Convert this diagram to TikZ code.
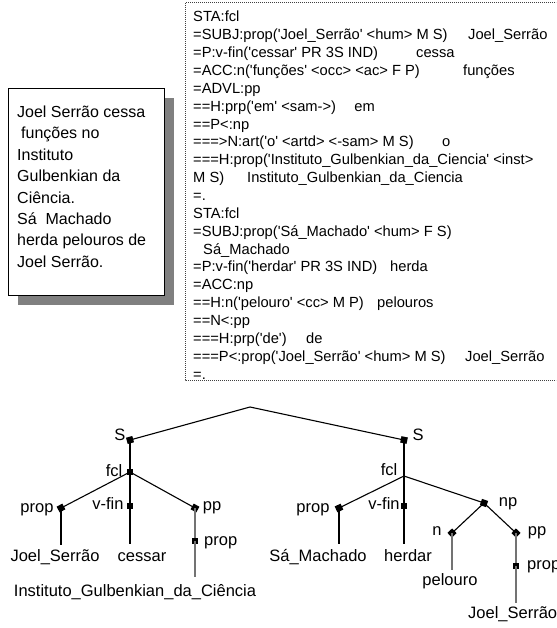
\documentclass[tikz,border=0pt]{standalone}
\usepackage{fontspec}
\setmainfont{Liberation Sans}
\newcommand\q{\textquotesingle}
\begin{document}
\begin{tikzpicture}[x=1pt,y=-1pt,
  edge/.style={line width=1.1pt, black},
  gedge/.style={line width=1.5pt, black!55},
  mk/.style={fill=black, draw=none, rectangle, minimum size=6.5pt, inner sep=0pt, sloped, pos=1},
  tlab/.style={font=\fontsize{16.5}{18}\selectfont, inner sep=0pt, anchor=base},
  dl/.style={font=\fontsize{14.7}{16}\selectfont, anchor=base west, inner sep=0pt},
  bl/.style={font=\fontsize{16}{18}\selectfont, anchor=base west, inner sep=0pt},
  dotbox/.style={black!75, line width=1pt, dash pattern=on 1pt off 1pt},
]
\useasboundingbox (0,0) rectangle (556,628);
\clip (0,0) rectangle (556,628);
\fill[white] (0,0) rectangle (556,628);

% ---------- left sentence box ----------
\fill[black!50] (18,98) rectangle (174,305);
\node[draw=black, line width=0.9pt, fill=white, minimum width=156pt, minimum height=207pt,
      anchor=north west, inner sep=0pt] (sbox) at (8,88) {};
\node[bl] (b1) at (17,117.5) {Joel Serrão cessa};
\node[bl] (b2) at (21,138.9) {funções no};
\node[bl] (b3) at (17,160.3) {Instituto};
\node[bl] (b4) at (17,181.7) {Gulbenkian da};
\node[bl] (b5) at (17,203.1) {Ciência.};
\node[bl] (b6) at (17,224.5) {Sá\ \ Machado};
\node[bl] (b7) at (17,245.9) {herda pelouros de};
\node[bl] (b8) at (17,267.3) {Joel Serrão.};

% ---------- dotted analysis box ----------
\draw[dotbox] (185,3) rectangle (600,380);
\newcommand\dline[2]{\node[dl] (d#1) at (193,{22+17.85*(#1-1)}) {#2};}
\newcommand\dword[3]{\node[dl] (w#1) at (#2,{22+17.85*(#1-1)}) {#3};}
\dline{1}{STA:fcl}
\dline{2}{=SUBJ:prop(\q Joel\_Serrão\q\ <hum> M S)}
\dword{2}{468}{Joel\_Serrão}
\dline{3}{=P:v-fin(\q cessar\q\ PR 3S IND)}
\dword{3}{416}{cessa}
\dline{4}{=ACC:n(\q funções\q\ <occ> <ac> F P)}
\dword{4}{463}{funções}
\dline{5}{=ADVL:pp}
\dline{6}{==H:prp(\q em\q\ <sam->)}
\node[dl] (w6) at ([xshift=18pt]d6.base east) {em};
\dline{7}{==P<:np}
\dline{8}{===>N:art(\q o\q\ <artd> <-sam> M S)}
\dword{8}{442}{o}
\dline{9}{===H:prop(\q Instituto\_Gulbenkian\_da\_Ciencia\q\ <inst>}
\dline{10}{M S)}
\dword{10}{247}{Instituto\_Gulbenkian\_da\_Ciencia}
\dline{11}{=.}
\dline{12}{STA:fcl}
\dline{13}{=SUBJ:prop(\q Sá\_Machado\q\ <hum> F S)}
\dword{14}{203}{Sá\_Machado}
\dline{15}{=P:v-fin(\q herdar\q\ PR 3S IND)}
\dword{15}{390}{herda}
\dline{16}{=ACC:np}
\dline{17}{==H:n(\q pelouro\q\ <cc> M P)}
\dword{17}{377}{pelouros}
\dline{18}{==N<:pp}
\dline{19}{===H:prp(\q de\q)}
\dword{19}{306}{de}
\dline{20}{===P<:prop(\q Joel\_Serrão\q\ <hum> M S)}
\dword{20}{465}{Joel\_Serrão}
\dline{21}{=.}

% ---------- tree ----------
\coordinate (A) at (250,407);
\coordinate (SL) at (130,440);
\coordinate (SR) at (404,440);
\coordinate (fL) at (130,472);
\coordinate (fR) at (404,476);
\coordinate (pL) at (61,508);
\coordinate (vL) at (130,506);
\coordinate (ppL) at (195,508);
\coordinate (prL) at (195,541);
\coordinate (lJ) at (61,545);
\coordinate (lC) at (130,544);
\coordinate (lI) at (195,577);
\coordinate (pR) at (339,508);
\coordinate (vR) at (404,506);
\coordinate (np) at (484,503);
\coordinate (nR) at (452,533);
\coordinate (ppR) at (516,533);
\coordinate (prR) at (516,566);
\coordinate (lS) at (339,544);
\coordinate (lH) at (404,544);
\coordinate (lP) at (452,570);
\coordinate (lJ2) at (516,603);

\draw[edge] (A) -- (SL) node[mk] {};
\draw[edge] (A) -- (SR) node[mk] {};
\draw[edge] (SL) -- (fL) node[mk] {};
\draw[edge] (SR) -- (fR);
\draw[edge] (fL) -- (pL) node[mk] {};
\draw[edge] (fL) -- (vL) node[mk] {};
\draw[edge] (fL) -- (ppL) node[mk] {};
\draw[edge] (pL) -- (lJ);
\draw[edge] (vL) -- (lC);
\draw[gedge] (ppL) -- (prL) node[mk] {};
\draw[gedge] (prL) -- (lI);
\draw[edge] (fR) -- (pR) node[mk] {};
\draw[edge] (fR) -- (vR) node[mk] {};
\draw[edge] (fR) -- (np) node[mk] {};
\draw[edge] (pR) -- (lS);
\draw[edge] (vR) -- (lH);
\draw[edge] (np) -- (nR) node[mk] {};
\draw[edge] (np) -- (ppR) node[mk] {};
\draw[gedge] (nR) -- (lP);
\draw[gedge] (ppR) -- (prR) node[mk] {};
\draw[gedge] (prR) -- (lJ2);

% labels
\node[tlab] (tSL) at (120,440.7) {S};
\node[tlab] (tSR) at (418,440.7) {S};
\node[tlab] (tfL) at (114,476) {fcl};
\node[tlab] (tfR) at (389,475) {fcl};
\node[tlab] (tpL) at (37,512.7) {prop};
\node[tlab] (tvL) at (108,509.3) {v-fin};
\node[tlab] (tppL) at (212,510.7) {pp};
\node[tlab, anchor=base west] (tprL) at (204,545) {prop};
\node[tlab] (tlJ) at (55,561.7) {Joel\_Serrão};
\node[tlab] (tlC) at (142,561.7) {cessar};
\node[tlab] (tlI) at (135,596) {Instituto\_Gulbenkian\_da\_Ciência};
\node[tlab] (tpR) at (313,512.7) {prop};
\node[tlab] (tvR) at (384,509.3) {v-fin};
\node[tlab] (tnp) at (508,506) {np};
\node[tlab] (tn) at (437,535) {n};
\node[tlab] (tppR) at (537,535) {pp};
\node[tlab, anchor=base west] (tprR) at (527,569) {prop};
\node[tlab] (tlS) at (318,561.7) {Sá\_Machado};
\node[tlab] (tlH) at (408,561.7) {herdar};
\node[tlab] (tlP) at (450,585.7) {pelouro};
\node[tlab, anchor=base west] (tlJ2) at (468,618.3) {Joel\_Serrão};
\end{tikzpicture}
\end{document}
